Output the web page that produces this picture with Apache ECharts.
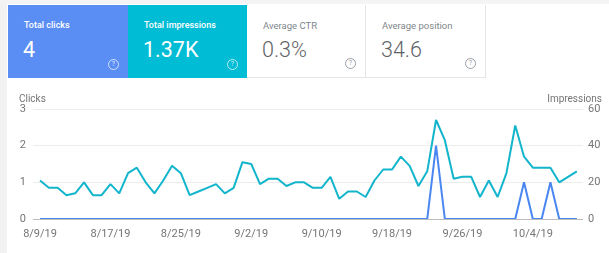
<!DOCTYPE html>
<html>
<head>
<meta charset="utf-8">
<script src="https://cdn.jsdelivr.net/npm/echarts@6/dist/echarts.min.js"></script>
<style>
  html, body { margin: 0; padding: 0; background: #fff; font-family: Roboto, Arial, sans-serif; }
  .page { position: relative; width: 609px; height: 253px; overflow: hidden; }
  .edge-top { position: absolute; left: 0; top: 0; width: 609px; height: 4px; background: #f4f4f4; }
  .edge-left { position: absolute; left: 0; top: 4px; width: 7px; height: 249px; background: #f2f2f2; }
  #chart { position: absolute; left: 0; top: 0; width: 609px; height: 253px; }
  .card { position: absolute; top: 5px; height: 73px; box-sizing: border-box; }
  .card .label { position: absolute; left: 16px; top: 16px; font-size: 9.5px; line-height: 1; }
  .card .value { position: absolute; left: 15px; top: 34px; font-size: 21.5px; line-height: 1; }
  .card .help { position: absolute; right: 9px; bottom: 8px; width: 9px; height: 9px; border-radius: 50%;
    font-size: 7px; line-height: 9px; text-align: center; }
  .clicks { left: 8px; width: 120px; background: #5b8ef5; color: #fff; }
  .impr { left: 128px; width: 119px; background: #00bcd4; color: #fff; }
  .clicks .label, .impr .label { font-weight: 500; font-size: 9px; }
  .clicks .value, .impr .value { font-weight: 400; }
  .clicks .help, .impr .help { border: 1px solid rgba(255,255,255,0.7); color: rgba(255,255,255,0.8); }
  .ctr { left: 247px; width: 119px; background: #fff; border-right: 1px solid #e6e6e6; border-bottom: 1px solid #e6e6e6; }
  .pos { left: 366px; width: 120px; background: #fff; border-right: 1px solid #e6e6e6; border-bottom: 1px solid #e6e6e6; }
  .ctr .label, .pos .label { color: #80868b; }
  .ctr .value, .pos .value { color: #5f6368; font-weight: 300; }
  .ctr .help, .pos .help { border: 1px solid #9aa0a6; color: #9aa0a6; }
</style>
</head>
<body>
<div class="page">
  <div class="edge-top"></div>
  <div class="edge-left"></div>
  <div id="chart"></div>
  <div class="card clicks"><div class="label">Total clicks</div><div class="value">4</div><div class="help">?</div></div>
  <div class="card impr"><div class="label">Total impressions</div><div class="value">1.37K</div><div class="help">?</div></div>
  <div class="card ctr"><div class="label">Average CTR</div><div class="value">0.3%</div><div class="help">?</div></div>
  <div class="card pos"><div class="label">Average position</div><div class="value">34.6</div><div class="help">?</div></div>
</div>
<script>
// one entry per day, 8/9/19 .. 10/9/19
const dates = [
  '8/9/19', '8/10/19', '8/11/19', '8/12/19', '8/13/19', '8/14/19', '8/15/19', '8/16/19',
  '8/17/19', '8/18/19', '8/19/19', '8/20/19', '8/21/19', '8/22/19', '8/23/19', '8/24/19',
  '8/25/19', '8/26/19', '8/27/19', '8/28/19', '8/29/19', '8/30/19', '8/31/19', '9/1/19',
  '9/2/19', '9/3/19', '9/4/19', '9/5/19', '9/6/19', '9/7/19', '9/8/19', '9/9/19',
  '9/10/19', '9/11/19', '9/12/19', '9/13/19', '9/14/19', '9/15/19', '9/16/19', '9/17/19',
  '9/18/19', '9/19/19', '9/20/19', '9/21/19', '9/22/19', '9/23/19', '9/24/19', '9/25/19',
  '9/26/19', '9/27/19', '9/28/19', '9/29/19', '9/30/19', '10/1/19', '10/2/19', '10/3/19',
  '10/4/19', '10/5/19', '10/6/19', '10/7/19', '10/8/19', '10/9/19'
]
const clicks = [
  0, 0, 0, 0, 0, 0, 0, 0, 0, 0, 0, 0, 0, 0, 0, 0,
  0, 0, 0, 0, 0, 0, 0, 0, 0, 0, 0, 0, 0, 0, 0, 0,
  0, 0, 0, 0, 0, 0, 0, 0, 0, 0, 0, 0, 0, 2, 0, 0,
  0, 0, 0, 0, 0, 0, 0, 1, 0, 0, 1, 0, 0, 0
]
const impressions = [
  21, 17, 17, 13, 14, 20, 13, 13, 19, 14, 25, 28, 20, 14, 21, 29,
  25, 13, 15, 17, 19, 14, 17, 31, 30, 19, 22, 22, 18, 20, 20, 17,
  17, 23, 11, 15, 15, 12, 21, 27, 27, 34, 29, 18, 26, 54, 43, 22,
  23, 23, 12, 21, 12, 25, 51, 34, 28, 28, 28, 20, 23, 26
]
const labelDays = [0, 8, 16, 24, 32, 40, 48, 56]
const clickTicks = [0, 1, 2, 3]
const imprTicks = [0, 20, 40, 60]

var chart = echarts.init(document.getElementById('chart'))
var axisText = { color: '#757575', fontSize: 11, fontFamily: 'Roboto' }
var option = {
  animation: false,
  grid: { left: 33, right: 26, top: 109, bottom: 34 },
  graphic: [
    { type: 'text', left: 19, top: 94, style: { text: 'Clicks', fill: '#757575', fontSize: 10, fontFamily: 'Roboto' } },
    { type: 'text', right: 7, top: 94, style: { text: 'Impressions', fill: '#757575', fontSize: 10, fontFamily: 'Roboto' } }
  ],
  xAxis: {
    type: 'value',
    min: -0.8,
    max: 61.7,
    splitLine: { show: false },
    axisLine: { show: false },
    axisTick: { show: false },
    axisLabel: {
      customValues: labelDays,
      margin: 10,
      ...axisText,
      formatter: function (v) { return dates[Math.round(v)] }
    }
  },
  yAxis: [
    {
      type: 'value',
      min: clickTicks[0],
      max: clickTicks[clickTicks.length - 1],
      interval: 1,
      axisLine: { show: false },
      axisTick: { show: false },
      splitLine: { lineStyle: { color: '#ececec', width: 1 } },
      axisLabel: { margin: 7, ...axisText }
    },
    {
      type: 'value',
      min: imprTicks[0],
      max: imprTicks[imprTicks.length - 1],
      interval: 20,
      axisLine: { show: false },
      axisTick: { show: false },
      splitLine: { show: false },
      axisLabel: { margin: 5, ...axisText }
    }
  ],
  series: [
    {
      type: 'line',
      name: 'Baseline',
      yAxisIndex: 0,
      silent: true,
      markLine: {
        symbol: 'none',
        silent: true,
        label: { show: false },
        lineStyle: { color: '#bdbdbd', width: 1, type: 'solid' },
        data: [{ yAxis: 0 }]
      },
      data: []
    },
    {
      type: 'line',
      name: 'Impressions',
      yAxisIndex: 1,
      symbol: 'none',
      lineStyle: { color: '#12b5cb', width: 2 },
      itemStyle: { color: '#12b5cb' },
      data: impressions.map(function (v, i) { return [i, v] })
    },
    {
      type: 'line',
      name: 'Clicks',
      yAxisIndex: 0,
      symbol: 'none',
      lineStyle: { color: '#4a86f2', width: 2 },
      itemStyle: { color: '#4a86f2' },
      data: clicks.map(function (v, i) { return [i, v] })
    }
  ]
}
chart.setOption(option)
</script>
</body>
</html>
